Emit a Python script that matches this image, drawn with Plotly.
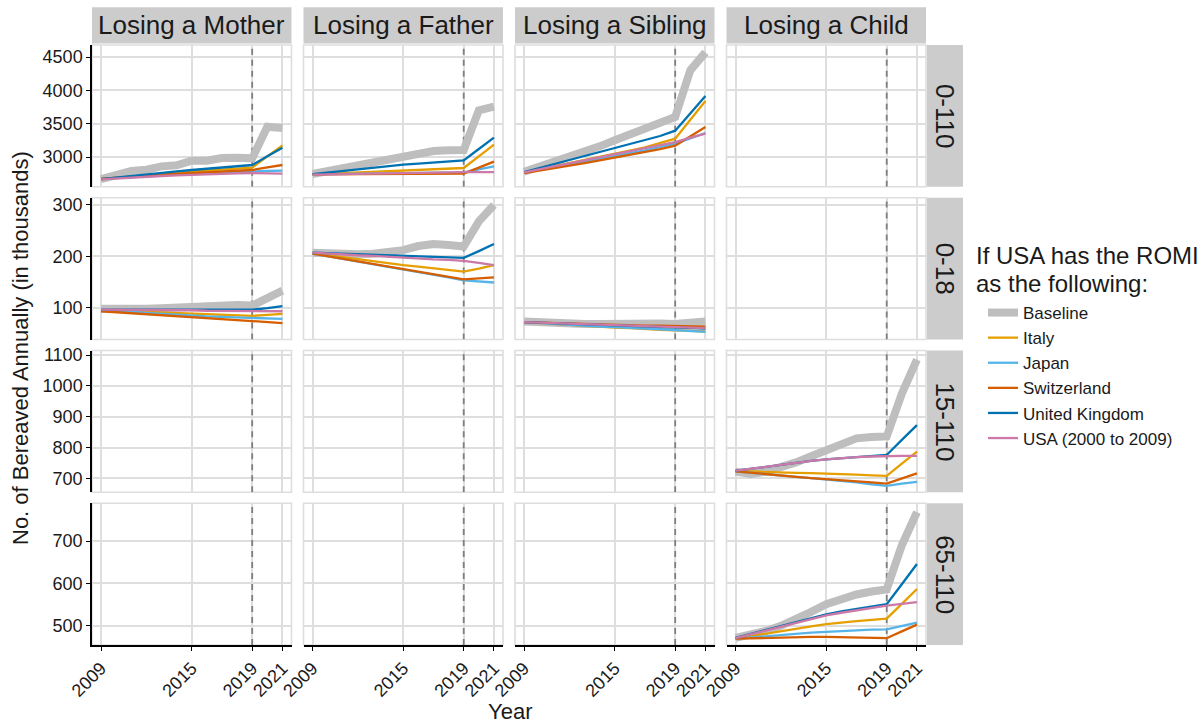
import plotly.graph_objects as go

# ---------------- data ----------------
years = list(range(2009, 2022))
col_labels = ["Losing a Mother", "Losing a Father", "Losing a Sibling", "Losing a Child"]
row_labels = ["0-110", "0-18", "15-110", "65-110"]
series_names = ["Baseline", "Italy", "Japan", "Switzerland", "United Kingdom", "USA (2000 to 2009)"]
series_colors = ["#BEBEBE", "#E69F00", "#56B4E9", "#D55E00", "#0072B2", "#CC79A7"]

# Losing a Mother, 0-110
mother_0_110 = {
    "Baseline": [2670, 2730, 2790, 2810, 2860, 2875, 2945, 2945, 2985, 2990, 2980, 3455, 3435],
    "Italy": [2670, 2690, 2710, 2730, 2750, 2765, 2780, 2795, 2810, 2825, 2840, 3010, 3175],
    "Japan": [2670, 2685, 2700, 2715, 2730, 2740, 2750, 2760, 2770, 2775, 2780, 2790, 2795],
    "Switzerland": [2670, 2688, 2705, 2720, 2735, 2748, 2760, 2772, 2785, 2795, 2805, 2845, 2880],
    "United Kingdom": [2670, 2695, 2720, 2745, 2765, 2785, 2805, 2825, 2845, 2862, 2880, 3010, 3140],
    "USA (2000 to 2009)": [2665, 2680, 2695, 2705, 2715, 2725, 2735, 2740, 2748, 2755, 2760, 2755, 2750],
}
# Losing a Father, 0-110
father_0_110 = {
    "Baseline": [2745, 2790, 2830, 2870, 2910, 2960, 3020, 3040, 3090, 3100, 3105, 3700, 3755],
    "Italy": [2740, 2750, 2760, 2770, 2780, 2790, 2800, 2810, 2820, 2828, 2835, 3010, 3185],
    "Japan": [2740, 2742, 2745, 2748, 2750, 2753, 2756, 2760, 2763, 2766, 2770, 2815, 2860],
    "Switzerland": [2740, 2740, 2740, 2740, 2740, 2740, 2740, 2742, 2744, 2746, 2750, 2840, 2930],
    "United Kingdom": [2745, 2770, 2795, 2820, 2845, 2865, 2885, 2900, 2920, 2935, 2950, 3120, 3290],
    "USA (2000 to 2009)": [2735, 2740, 2745, 2750, 2755, 2760, 2763, 2766, 2768, 2770, 2772, 2772, 2772],
}
# Losing a Sibling, 0-110
sibling_0_110 = {
    "Baseline": [2780, 2850, 2920, 3000, 3080, 3160, 3250, 3340, 3450, 3520, 3600, 4300, 4570],
    "Italy": [2770, 2815, 2860, 2905, 2950, 2995, 3045, 3095, 3145, 3205, 3275, 3560, 3840],
    "Japan": [2770, 2810, 2850, 2890, 2930, 2970, 3010, 3055, 3100, 3150, 3200, 3280, 3360],
    "Switzerland": [2760, 2795, 2830, 2870, 2910, 2950, 2990, 3030, 3075, 3120, 3170, 3310, 3450],
    "United Kingdom": [2775, 2835, 2895, 2955, 3010, 3065, 3125, 3185, 3245, 3315, 3395, 3655, 3915],
    "USA (2000 to 2009)": [2770, 2815, 2860, 2905, 2950, 2995, 3040, 3085, 3130, 3180, 3225, 3290, 3350],
}
# Losing a Mother, 0-18
mother_0_18 = {
    "Baseline": [98, 97, 97, 98, 99, 100, 102, 105, 106, 105, 104, 118, 133],
    "Italy": [95, 94, 93, 92, 91, 90, 89, 88, 86, 85, 84, 86, 88],
    "Japan": [95, 94, 92, 90, 88, 86, 85, 83, 82, 81, 80, 79, 78],
    "Switzerland": [93, 91, 89, 87, 85, 83, 81, 79, 77, 75, 73, 71, 70],
    "United Kingdom": [96, 96, 96, 96, 96, 96, 96, 96, 96, 96, 96, 99, 103],
    "USA (2000 to 2009)": [96, 96, 95, 95, 95, 95, 95, 94, 94, 94, 94, 93, 93],
}
# Losing a Father, 0-18
father_0_18 = {
    "Baseline": [207, 205, 204, 204, 205, 207, 212, 220, 224, 222, 219, 268, 300],
    "Italy": [206, 202, 198, 194, 190, 186, 183, 180, 177, 174, 170, 176, 183],
    "Japan": [205, 200, 195, 190, 185, 180, 175, 170, 165, 159, 153, 151, 149],
    "Switzerland": [205, 200, 195, 190, 185, 180, 175, 170, 165, 160, 155, 157, 159],
    "United Kingdom": [207, 206, 205, 204, 203, 202, 201, 200, 199, 198, 197, 210, 224],
    "USA (2000 to 2009)": [207, 205, 204, 202, 201, 199, 197, 196, 194, 193, 191, 187, 183],
}
# Losing a Sibling, 0-18
sibling_0_18 = {
    "Baseline": [73, 71, 70, 69, 68, 68, 69, 70, 70, 69, 68, 70, 73],
    "Italy": [72, 70, 68, 66, 64, 62, 61, 60, 58, 57, 56, 55, 54],
    "Japan": [72, 70, 68, 66, 64, 63, 62, 60, 59, 58, 56, 55, 53],
    "Switzerland": [72, 71, 70, 69, 68, 67, 66, 66, 65, 65, 64, 64, 63],
    "United Kingdom": [72, 71, 69, 68, 67, 66, 65, 64, 63, 62, 61, 60, 59],
    "USA (2000 to 2009)": [72, 71, 70, 68, 67, 66, 65, 64, 63, 62, 62, 61, 60],
}
# Losing a Child, 15-110
child_15_110 = {
    "Baseline": [722, 714, 722, 735, 752, 772, 792, 815, 830, 834, 836, 975, 1085],
    "Italy": [724, 722, 720, 719, 718, 717, 716, 714, 712, 710, 708, 748, 787],
    "Japan": [723, 718, 713, 709, 705, 701, 697, 692, 687, 681, 676, 683, 689],
    "Switzerland": [723, 718, 713, 709, 705, 701, 698, 694, 690, 687, 683, 700, 716],
    "United Kingdom": [725, 730, 737, 744, 751, 757, 762, 766, 770, 773, 776, 825, 873],
    "USA (2000 to 2009)": [725, 730, 737, 744, 751, 757, 762, 766, 769, 771, 773, 773, 773],
}
# Losing a Child, 65-110
child_65_110 = {
    "Baseline": [472, 478, 488, 500, 514, 533, 551, 563, 574, 581, 586, 690, 768],
    "Italy": [470, 476, 482, 488, 494, 499, 504, 508, 511, 514, 517, 552, 587],
    "Japan": [470, 473, 476, 479, 481, 484, 486, 488, 490, 491, 492, 500, 508],
    "Switzerland": [470, 471, 472, 473, 473, 474, 474, 473, 472, 472, 471, 487, 503],
    "United Kingdom": [472, 481, 490, 499, 508, 518, 527, 534, 540, 546, 551, 598, 646],
    "USA (2000 to 2009)": [471, 480, 489, 498, 507, 516, 525, 531, 537, 543, 548, 552, 556],
}

# (row, col) -> data ; empty panels are absent
panel_data = {
    (0, 0): mother_0_110, (0, 1): father_0_110, (0, 2): sibling_0_110,
    (1, 0): mother_0_18, (1, 1): father_0_18, (1, 2): sibling_0_18,
    (2, 3): child_15_110, (3, 3): child_65_110,
}

x_ticks = [2009, 2015, 2019, 2021]
y_ticks = [[3000, 3500, 4000, 4500], [100, 200, 300], [700, 800, 900, 1000, 1100], [500, 600, 700]]
y_ranges = [[2554, 4680], [38, 314], [655, 1115], [455, 789]]
x_range = [2008.4, 2021.6]
ref_year = 2019
legend_title_lines = ["If USA has the ROMI", "as the following:"]

# ---------------- layout geometry (pixels) ----------------
W_FIG, H_FIG = 1200, 725
col_left = [92, 303.5, 515, 726.5]
col_w = 199.5
row_top = [45, 197.75, 350.5, 503.25]
row_h = 141.75

def PX(x):
    return x / W_FIG

def PY(y):
    return 1 - y / H_FIG

FONT = "Liberation Sans, Arial, sans-serif"
TXT = "#1A1A1A"
GRID = "#DEDEDE"

fig = go.Figure()
layout = dict(
    width=W_FIG, height=H_FIG,
    margin=dict(l=0, r=0, t=0, b=0, autoexpand=False),
    paper_bgcolor="white", plot_bgcolor="white",
    font=dict(family=FONT, color=TXT),
    showlegend=True,
)
shapes = []
annotations = []

for r in range(4):
    for c in range(4):
        k = r * 4 + c + 1
        xa = "x" if k == 1 else f"x{k}"
        ya = "y" if k == 1 else f"y{k}"
        xkey = "xaxis" if k == 1 else f"xaxis{k}"
        ykey = "yaxis" if k == 1 else f"yaxis{k}"
        x0, x1 = col_left[c], col_left[c] + col_w
        y0, y1 = row_top[r], row_top[r] + row_h
        bottom = r == 3
        left = c == 0
        layout[xkey] = dict(
            domain=[PX(x0), PX(x1)], anchor=ya, range=x_range, automargin=False,
            tickvals=x_ticks, ticktext=[str(v) for v in x_ticks],
            showgrid=True, gridcolor=GRID, gridwidth=1.6, zeroline=False,
            showticklabels=bottom, ticks="outside" if bottom else "",
            ticklen=4, tickwidth=1.2, tickcolor="black", tickangle=-45,
            tickfont=dict(size=18, color=TXT, family=FONT),
            showline=bottom, linecolor="black", linewidth=1.5,
        )
        layout[ykey] = dict(
            domain=[PY(y1), PY(y0)], anchor=xa, range=y_ranges[r], automargin=False,
            tickvals=y_ticks[r], ticktext=[str(v) for v in y_ticks[r]],
            showgrid=True, gridcolor=GRID, gridwidth=1.6, zeroline=False,
            showticklabels=left, ticks="outside" if left else "",
            ticklen=4, tickwidth=1.2, tickcolor="black",
            tickfont=dict(size=18, color=TXT, family=FONT),
            showline=left, linecolor="black", linewidth=1.5,
        )
        # panel border
        shapes.append(dict(type="rect", xref="paper", yref="paper",
                           x0=PX(x0), x1=PX(x1), y0=PY(y1), y1=PY(y0),
                           line=dict(color=GRID, width=1.6), fillcolor="rgba(0,0,0,0)",
                           layer="below"))
        # dashed 2019 reference line (drawn as a trace so it sits above the grid)
        fig.add_trace(go.Scatter(
            x=[ref_year, ref_year], y=y_ranges[r], mode="lines",
            line=dict(color="#7F7F7F", width=1.8, dash="6px,5px"),
            xaxis=xa, yaxis=ya, showlegend=False, hoverinfo="skip",
        ))
        data = panel_data.get((r, c))
        if data is not None:
            for name, color in zip(series_names, series_colors):
                base = name == "Baseline"
                fig.add_trace(go.Scatter(
                    x=years, y=data[name], mode="lines", name=name,
                    line=dict(color=color, width=8 if base else 2.3),
                    xaxis=xa, yaxis=ya, legendgroup=name,
                    showlegend=(r, c) == (0, 0), hoverinfo="x+y+name",
                ))

# top strips
for c, lab in enumerate(col_labels):
    x0, x1 = col_left[c], col_left[c] + col_w
    shapes.append(dict(type="rect", xref="paper", yref="paper",
                       x0=PX(x0), x1=PX(x1), y0=PY(43.5), y1=PY(7.3),
                       fillcolor="#CCCCCC", line=dict(width=0), layer="below"))
    annotations.append(dict(text=lab, xref="paper", yref="paper",
                            x=PX((x0 + x1) / 2), y=PY(25.4), showarrow=False,
                            xanchor="center", yanchor="middle",
                            font=dict(size=26, color=TXT, family=FONT)))
# right strips
for r, lab in enumerate(row_labels):
    y0, y1 = row_top[r], row_top[r] + row_h
    shapes.append(dict(type="rect", xref="paper", yref="paper",
                       x0=PX(927), x1=PX(963), y0=PY(y1), y1=PY(y0),
                       fillcolor="#CCCCCC", line=dict(width=0), layer="below"))
    annotations.append(dict(text=lab, xref="paper", yref="paper",
                            x=PX(945), y=PY((y0 + y1) / 2), showarrow=False,
                            textangle=90, xanchor="center", yanchor="middle",
                            font=dict(size=26, color=TXT, family=FONT)))

# axis titles
annotations.append(dict(text="No. of Bereaved Annually (in thousands)", xref="paper", yref="paper",
                        x=PX(20), y=PY(348), showarrow=False, textangle=-90,
                        xanchor="center", yanchor="middle",
                        font=dict(size=22, color=TXT, family=FONT)))
annotations.append(dict(text="Year", xref="paper", yref="paper",
                        x=PX(510), y=PY(711), showarrow=False,
                        xanchor="center", yanchor="middle",
                        font=dict(size=22, color=TXT, family=FONT)))
# legend title
for i, line in enumerate(legend_title_lines):
    annotations.append(dict(text=line, xref="paper", yref="paper",
                            x=PX(974), y=PY(256 + 27 * i), showarrow=False,
                            xanchor="left", yanchor="middle",
                            font=dict(size=24, color=TXT, family=FONT)))

layout["shapes"] = shapes
layout["annotations"] = annotations
layout["legend"] = dict(
    x=PX(983), y=PY(295), xanchor="left", yanchor="top",
    bgcolor="rgba(0,0,0,0)", itemwidth=30, tracegroupgap=0,
    font=dict(size=17, color=TXT, family=FONT),
)
fig.update_layout(**layout)
fig.write_html("out.html", config={"displayModeBar": False},
               post_script="document.body.style.margin='0px';")
